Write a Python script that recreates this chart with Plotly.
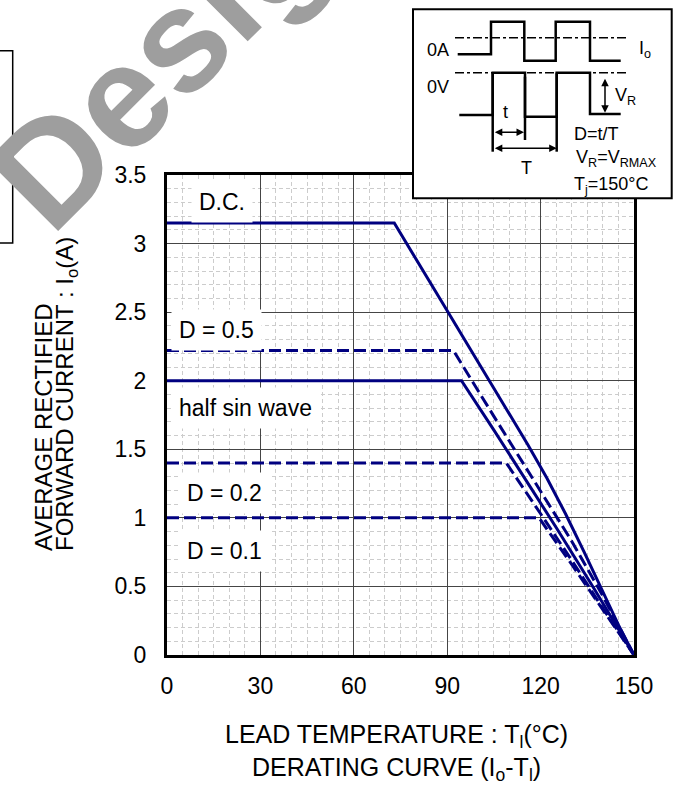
import plotly.graph_objects as go

# ---------------- data ----------------
temp_dc = [0, 73, 90, 103, 116, 122, 128, 134, 140, 145, 150]
io_dc = [3.15, 3.15, 2.51, 2.02, 1.53, 1.29, 1.03, 0.75, 0.46, 0.22, 0]

temp_d05 = [0, 92, 105, 118, 130, 140, 150]
io_d05 = [2.22, 2.22, 1.74, 1.27, 0.83, 0.43, 0]

temp_hs = [0, 94.6, 105, 115, 125, 137, 150]
io_hs = [2.0, 2.0, 1.64, 1.29, 0.93, 0.49, 0]

temp_d02 = [0, 109, 120, 130, 140, 150]
io_d02 = [1.4, 1.4, 1.03, 0.69, 0.34, 0]

temp_d01 = [0, 119.5, 130, 140, 150]
io_d01 = [1.0, 1.0, 0.66, 0.33, 0]

x_ticks = [0, 30, 60, 90, 120, 150]
x_ticktext = ["0", "30", "60", "90", "120", "150"]
y_ticks = [0, 0.5, 1, 1.5, 2, 2.5, 3, 3.5]
y_ticktext = ["0", "0.5", "1", "1.5", "2", "2.5", "3", "3.5"]

curve_labels = ["D.C.", "D = 0.5", "half sin wave", "D = 0.2", "D = 0.1"]
label_x = [17.6, 16.0, 25.3, 18.6, 18.6]
label_y = [3.30, 2.37, 1.80, 1.18, 0.76]

# ---------------- layout constants ----------------
W, H = 675, 794
L, R, T, B = 167, 41, 175, 139
PW, PH = W - L - R, H - T - B
FONT = "Arial, Liberation Sans, sans-serif"
NAVY = "#000080"


def fx(px):
    return (px - L) / PW


def fy(py):
    return (H - B - py) / PH


fig = go.Figure()

series = [
    (temp_dc, io_dc, "solid"),
    (temp_d05, io_d05, "12px,5px"),
    (temp_hs, io_hs, "solid"),
    (temp_d02, io_d02, "12px,5px"),
    (temp_d01, io_d01, "12px,5px"),
]
for xs, ys, dash in series:
    fig.add_trace(go.Scatter(x=xs, y=ys, mode="lines",
                             line=dict(color=NAVY, width=3, dash=dash),
                             showlegend=False, hoverinfo="skip"))

annotations = []

# watermark (drawn first so other annotations sit above it)
annotations.append(dict(x=fx(187), y=fy(30), xref="paper", yref="paper",
                        xanchor="center", yanchor="middle",
                        text="<b>Design</b>", textangle=-45, showarrow=False,
                        font=dict(family=FONT, size=146, color="#9e9e9e")))

for txt, lx, ly in zip(curve_labels, label_x, label_y):
    annotations.append(dict(x=lx, y=ly, xref="x", yref="y", text=txt,
                            xanchor="center", yanchor="middle",
                            showarrow=False, bgcolor="white", borderpad=7,
                            font=dict(family=FONT, size=23, color="black")))

# axis titles
annotations.append(dict(x=fx(43), y=fy(553), xref="paper", yref="paper",
                        text="AVERAGE RECTIFIED", textangle=-90, showarrow=False,
                        xanchor="center", yanchor="bottom",
                        font=dict(family=FONT, size=24, color="black")))
annotations.append(dict(x=fx(66), y=fy(553), xref="paper", yref="paper",
                        text="FORWARD CURRENT : I<sub>o</sub>(A)", textangle=-90,
                        showarrow=False, xanchor="center", yanchor="bottom",
                        font=dict(family=FONT, size=24, color="black")))
annotations.append(dict(x=fx(396), y=fy(752), xref="paper", yref="paper",
                        xanchor="center", yanchor="middle", align="center",
                        text="LEAD TEMPERATURE : T<sub>l</sub>(°C)<br>"
                             "DERATING CURVE (I<sub>o</sub>-T<sub>l</sub>)",
                        showarrow=False,
                        font=dict(family=FONT, size=25, color="black")))

# inset labels
inset_font = dict(family=FONT, size=18, color="black")
inset_texts = [
    ("0A", 438, 50), ("0V", 438, 87), ("I<sub>o</sub>", 645, 49),
    ("V<sub>R</sub>", 625, 97), ("t", 505, 112), ("T", 526, 168),
    ("D=t/T", 596, 134), ("V<sub>R</sub>=V<sub>RMAX</sub>", 616, 158),
    ("T<sub>j</sub>=150°C", 611, 185),
]
for txt, px_, py_ in inset_texts:
    annotations.append(dict(x=fx(px_), y=fy(py_), xref="paper", yref="paper",
                            xanchor="center", yanchor="middle",
                            text=txt, showarrow=False, font=inset_font))

# inset arrows (double headed)
for (x1, y1, x0, y0) in [(524, 132.3, 493.3, 132.3), (556.7, 148.3, 493.3, 148.3),
                         (605, 112.7, 605, 77.3)]:
    annotations.append(dict(x=fx(x1), y=fy(y1), xref="paper", yref="paper",
                            ax=x0 - x1, ay=y0 - y1, axref="pixel", ayref="pixel",
                            text="", showarrow=True, arrowhead=2, arrowsize=1,
                            arrowwidth=1.5, arrowcolor="black", arrowside="end+start"))


def path(points):
    return "M " + " L ".join(f"{fx(a):.5f},{fy(b):.5f}" for a, b in points)


shapes = []
# left partial box
shapes.append(dict(type="rect", xref="paper", yref="paper",
                   x0=fx(-5), x1=fx(12.7), y0=fy(243), y1=fy(50.7),
                   line=dict(color="black", width=1.5), layer="above"))
# inset box
shapes.append(dict(type="rect", xref="paper", yref="paper",
                   x0=fx(413), x1=fx(671.7), y0=fy(198.3), y1=fy(9.3),
                   line=dict(color="black", width=2), fillcolor="white", layer="above"))
# dash-dot reference lines
for yy in (37.7, 72.7):
    shapes.append(dict(type="line", xref="paper", yref="paper",
                       x0=fx(455), x1=fx(626.7), y0=fy(yy), y1=fy(yy),
                       line=dict(color="black", width=1.5, dash="dashdot"), layer="above"))
# current waveform
shapes.append(dict(type="path", xref="paper", yref="paper",
                   path=path([(457.7, 54.3), (491, 54.3), (491, 21.7), (524.3, 21.7),
                              (524.3, 60.7), (555.7, 60.7), (555.7, 21.7), (590, 21.7),
                              (590, 60.7), (620.7, 60.7)]),
                   line=dict(color="black", width=2.5), layer="above"))
# voltage waveform
shapes.append(dict(type="path", xref="paper", yref="paper",
                   path=path([(459.3, 115), (492.7, 115), (492.7, 72.7), (525, 72.7),
                              (525, 116.7), (556.7, 116.7), (556.7, 72.7), (590, 72.7),
                              (590, 114), (620.7, 114)]),
                   line=dict(color="black", width=2.5), layer="above"))
# marker extensions
for (xx, ya, yb) in [(492.7, 72.7, 151.7), (525, 76.7, 140), (556.7, 72.7, 151.7)]:
    shapes.append(dict(type="line", xref="paper", yref="paper",
                       x0=fx(xx), x1=fx(xx), y0=fy(ya), y1=fy(yb),
                       line=dict(color="black", width=2.5), layer="above"))

axis_common = dict(showline=True, linecolor="black", linewidth=3, mirror=True,
                   zeroline=False, showgrid=True, gridcolor="#454545", gridwidth=1.3,
                   ticks="", tickfont=dict(family=FONT, size=23, color="black"))
minor_common = dict(showgrid=True, gridcolor="#cccccc", griddash="4px,3px", gridwidth=1)

fig.update_layout(
    width=W, height=H, autosize=False,
    margin=dict(l=L, r=R, t=T, b=B),
    paper_bgcolor="white", plot_bgcolor="white",
    xaxis=dict(range=[0, 150], tickvals=x_ticks, ticktext=x_ticktext,
               ticklabelstandoff=8, minor=dict(dtick=5, **minor_common), **axis_common),
    yaxis=dict(range=[0, 3.5], tickvals=y_ticks, ticktext=y_ticktext,
               ticklabelstandoff=13, minor=dict(dtick=0.1, **minor_common), **axis_common),
    annotations=annotations,
    shapes=shapes,
)

fig.write_html("out.html", config={"displayModeBar": False},
               post_script="document.body.style.margin='0px';")
